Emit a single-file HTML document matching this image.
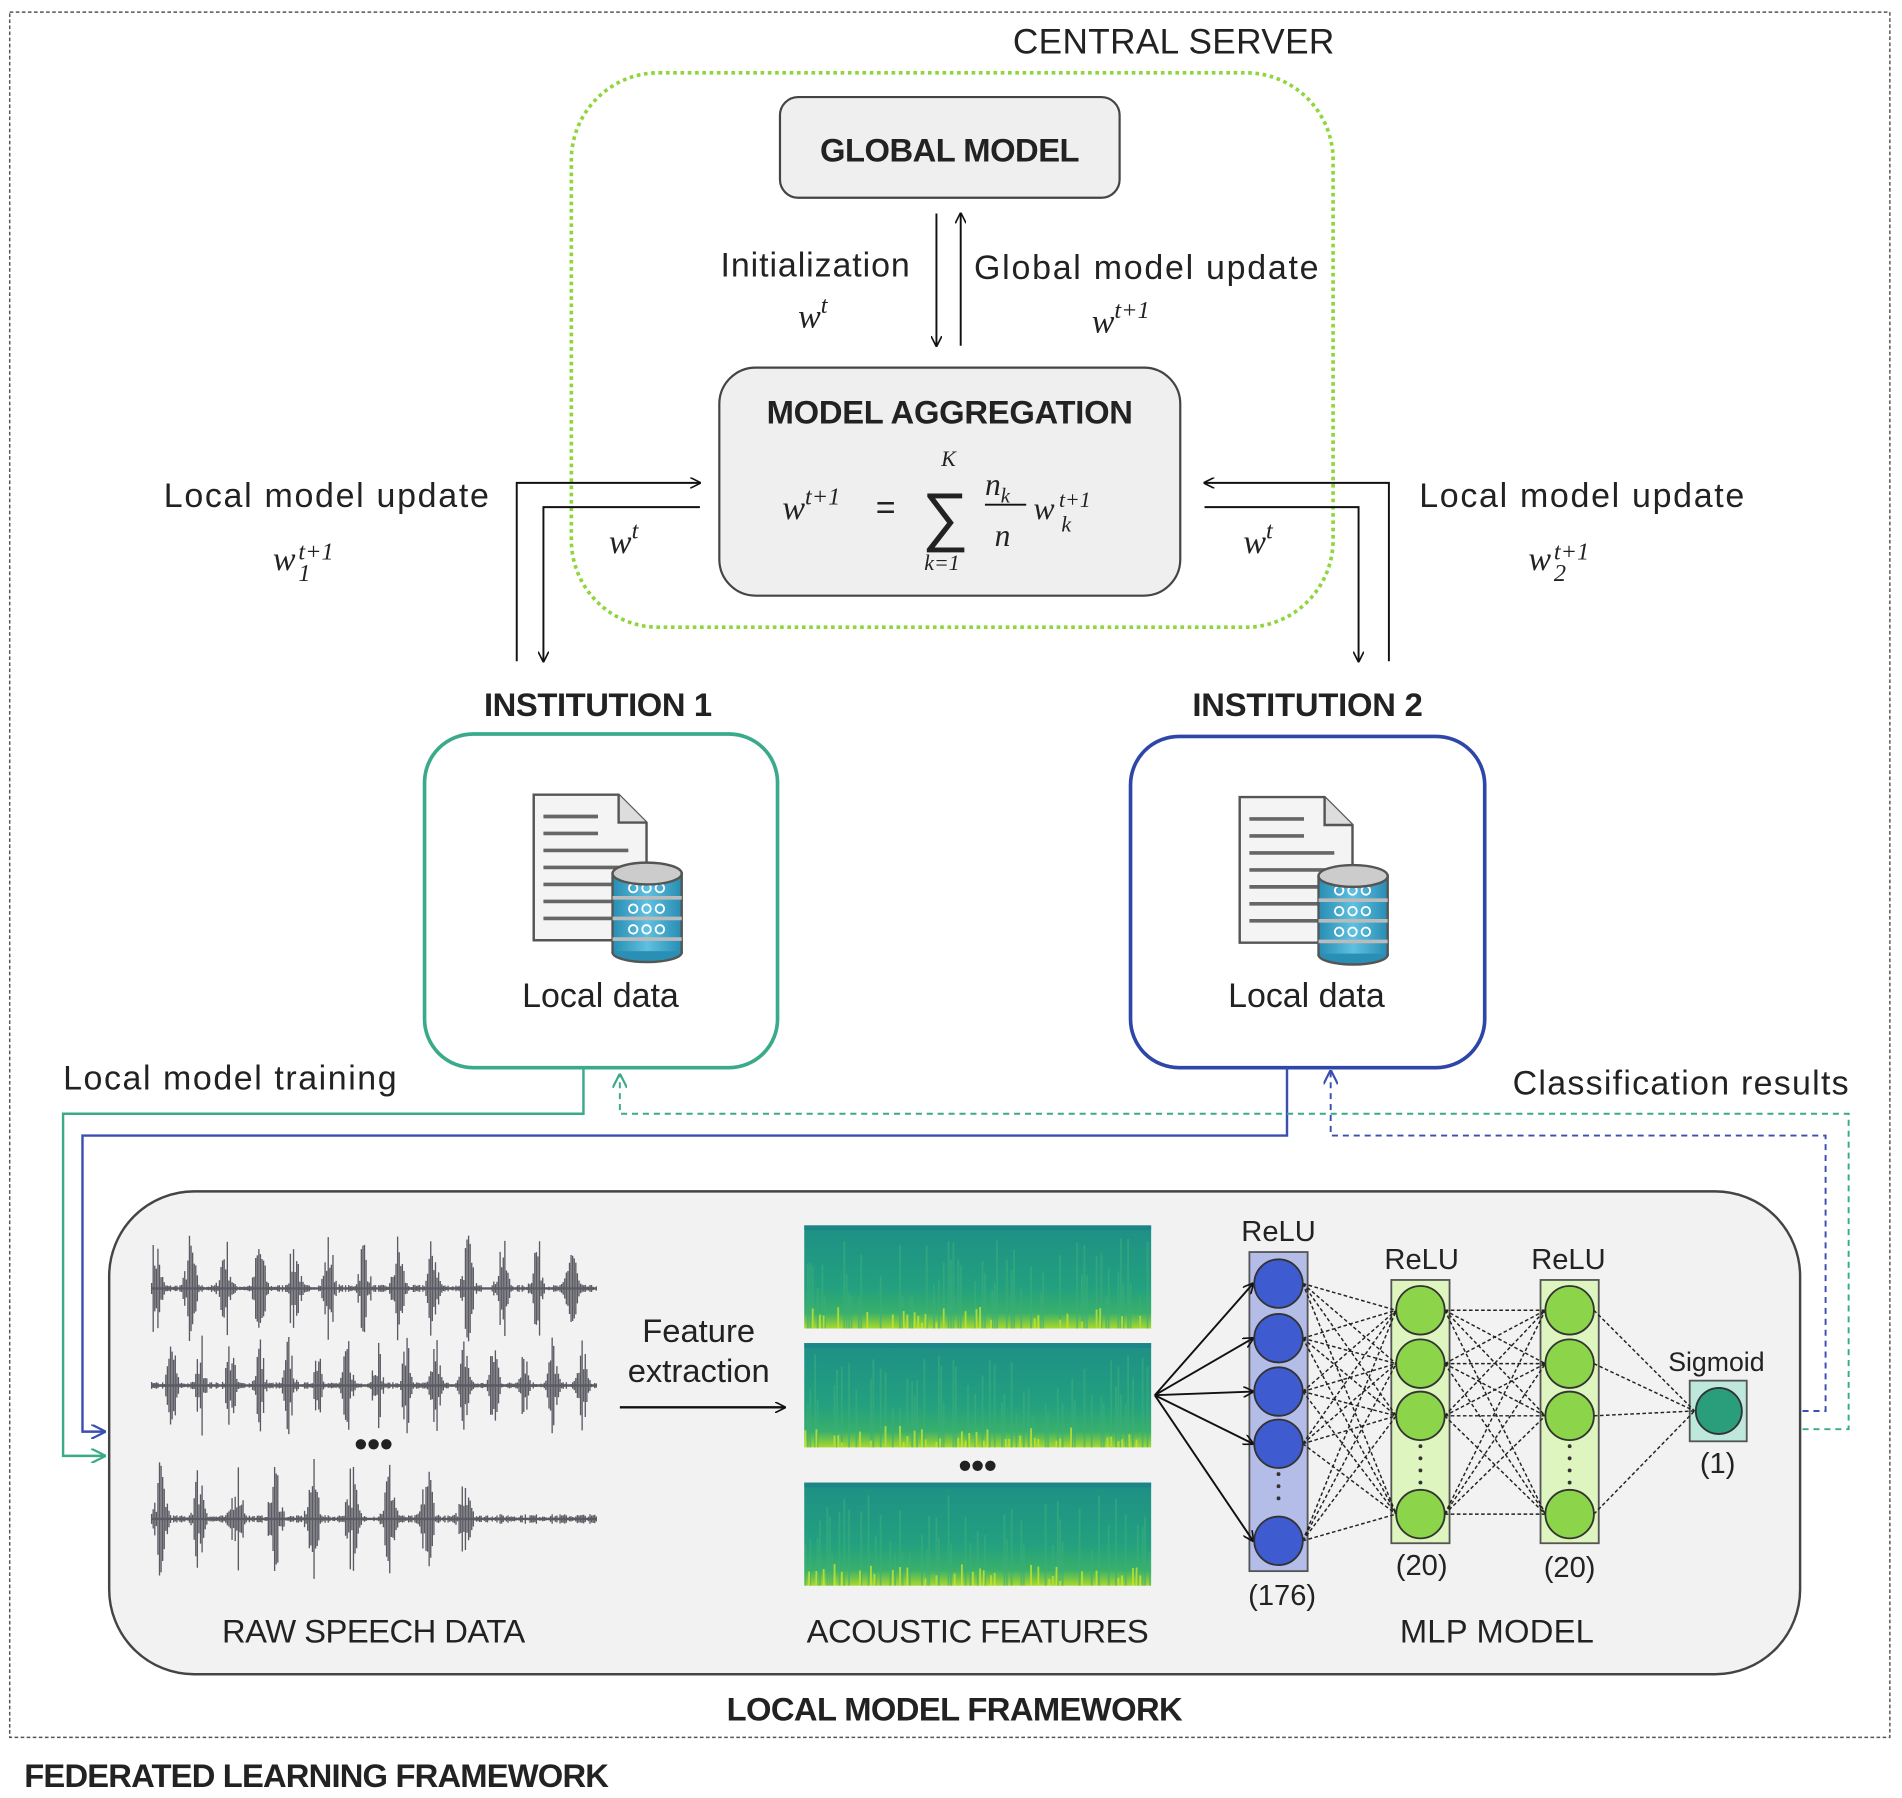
<!DOCTYPE html>
<html><head><meta charset="utf-8">
<style>
html,body{margin:0;padding:0;background:#fff;}
svg{display:block;}
text{font-family:"Liberation Sans",sans-serif;fill:#222;}
.b{font-weight:bold;}
.m{font-family:"Liberation Serif",serif;font-style:italic;}
</style></head>
<body>
<svg id="s" width="1902" height="1798" viewBox="0 0 1568 1482" preserveAspectRatio="none" xmlns="http://www.w3.org/2000/svg">
<defs>
<marker id="ah" viewBox="0 0 10 10" refX="9" refY="5" markerWidth="9" markerHeight="9" orient="auto" markerUnits="userSpaceOnUse"><path d="M0,0 L10,5 L0,10" fill="none" stroke="#111" stroke-width="1.5"/></marker>
<marker id="ahg" viewBox="0 0 10 10" refX="9" refY="5" markerWidth="12" markerHeight="12" orient="auto" markerUnits="userSpaceOnUse"><path d="M0,0 L10,5 L0,10" fill="none" stroke="#3aaa8a" stroke-width="1.5"/></marker>
<marker id="ahb" viewBox="0 0 10 10" refX="9" refY="5" markerWidth="12" markerHeight="12" orient="auto" markerUnits="userSpaceOnUse"><path d="M0,0 L10,5 L0,10" fill="none" stroke="#3a4fb0" stroke-width="1.5"/></marker>
<linearGradient id="sp" x1="0" y1="0" x2="0" y2="1">
<stop offset="0" stop-color="#1e8f86"/><stop offset="0.6" stop-color="#23a07f"/><stop offset="0.85" stop-color="#39b06a"/><stop offset="1" stop-color="#a8d82c"/></linearGradient>
<linearGradient id="cyl" x1="0" y1="0" x2="1" y2="0"><stop offset="0" stop-color="#2a8fb5"/><stop offset="0.5" stop-color="#5fc0e0"/><stop offset="1" stop-color="#2a8fb5"/></linearGradient>
</defs>

<rect x="8" y="10" width="1550" height="1422" fill="none" stroke="#555" stroke-width="1.2" stroke-dasharray="3,2"/>
<text x="835" y="44" font-size="29" textLength="265">CENTRAL SERVER</text>
<rect x="471" y="60" width="628" height="457" rx="72" fill="none" stroke="#8ed63c" stroke-width="3" stroke-dasharray="3,3"/>

<rect x="643" y="80" width="280" height="83" rx="15" fill="#efefef" stroke="#444" stroke-width="1.8"/>
<text x="783" y="133" font-size="27" class="b" text-anchor="middle" textLength="214">GLOBAL MODEL</text>

<line x1="772" y1="176" x2="772" y2="285" stroke="#111" stroke-width="1.6" marker-end="url(#ah)"/>
<line x1="792" y1="285" x2="792" y2="176" stroke="#111" stroke-width="1.6" marker-end="url(#ah)"/>
<text x="594" y="228" font-size="28" textLength="156">Initialization</text>
<text x="658" y="270" font-size="28" class="m">w<tspan dy="-12" font-size="20">t</tspan></text>
<text x="803" y="230" font-size="28" textLength="284">Global model update</text>
<text x="900" y="274" font-size="28" class="m">w<tspan dy="-12" font-size="20">t+1</tspan></text>

<rect x="593" y="303" width="380" height="188" rx="30" fill="#efefef" stroke="#444" stroke-width="1.8"/>
<text x="783" y="349" font-size="27" class="b" text-anchor="middle" textLength="302">MODEL AGGREGATION</text>
<text x="645" y="428" font-size="28" class="m">w<tspan dy="-12" font-size="20">t+1</tspan></text>
<text x="722" y="428" font-size="28" font-family="Liberation Serif">=</text>
<text x="760" y="444" font-size="54" font-family="DejaVu Serif,serif">∑</text>
<text x="776" y="384" font-size="18" class="m">K</text>
<text x="762" y="470" font-size="18" class="m">k=1</text>
<text x="812" y="408" font-size="26" class="m">n<tspan dy="6" font-size="17">k</tspan></text>
<line x1="812" y1="416" x2="846" y2="416" stroke="#111" stroke-width="1.5"/>
<text x="820" y="450" font-size="26" class="m">n</text>
<text x="852" y="428" font-size="26" class="m">w</text>
<text x="873" y="418" font-size="18" class="m">t+1</text>
<text x="875" y="438" font-size="18" class="m">k</text>

<polyline points="426,545 426,398 577,398" fill="none" stroke="#111" stroke-width="1.6" marker-end="url(#ah)"/>
<polyline points="577,418 448,418 448,545" fill="none" stroke="#111" stroke-width="1.6" marker-end="url(#ah)"/>
<polyline points="1145,545 1145,398 993,398" fill="none" stroke="#111" stroke-width="1.6" marker-end="url(#ah)"/>
<polyline points="993,418 1120,418 1120,545" fill="none" stroke="#111" stroke-width="1.6" marker-end="url(#ah)"/>
<text x="135" y="418" font-size="28" textLength="268">Local model update</text>
<text x="1170" y="418" font-size="28" textLength="268">Local model update</text>
<text x="225" y="470" font-size="28" class="m">w</text><text x="246" y="461" font-size="20" class="m">t+1</text><text x="246" y="479" font-size="20" class="m">1</text>
<text x="1260" y="470" font-size="28" class="m">w</text><text x="1281" y="461" font-size="20" class="m">t+1</text><text x="1281" y="479" font-size="20" class="m">2</text>
<text x="502" y="456" font-size="28" class="m">w<tspan dy="-12" font-size="20">t</tspan></text>
<text x="1025" y="456" font-size="28" class="m">w<tspan dy="-12" font-size="20">t</tspan></text>

<text x="493" y="590" font-size="27" class="b" text-anchor="middle" textLength="188">INSTITUTION 1</text>
<text x="1078" y="590" font-size="27" class="b" text-anchor="middle" textLength="190">INSTITUTION 2</text>

<rect x="350" y="605" width="291" height="275" rx="40" fill="#fff" stroke="#3aaa8a" stroke-width="3"/>
<rect x="932" y="607" width="292" height="273" rx="40" fill="#fff" stroke="#2e46a8" stroke-width="3"/>
<g id="icon1"></g><g id="icon2"></g>
<text x="495" y="830" font-size="28" text-anchor="middle">Local data</text>
<text x="1077" y="830" font-size="28" text-anchor="middle">Local data</text>

<text x="52" y="898" font-size="28" textLength="275">Local model training</text>
<text x="1247" y="902" font-size="28" textLength="277">Classification results</text>

<polyline points="481,880 481,918 52,918 52,1200 86,1200" fill="none" stroke="#3aaa8a" stroke-width="2" marker-end="url(#ahg)"/>
<polyline points="1061,880 1061,936 68,936 68,1180 86,1180" fill="none" stroke="#3a4fb0" stroke-width="2" marker-end="url(#ahb)"/>
<polyline points="1486,1178 1524,1178 1524,918 511,918 511,886" fill="none" stroke="#3aaa8a" stroke-width="1.6" stroke-dasharray="5,4" marker-end="url(#ahg)"/>
<polyline points="1486,1163 1505,1163 1505,936 1097,936 1097,883" fill="none" stroke="#3a4fb0" stroke-width="1.6" stroke-dasharray="5,4" marker-end="url(#ahb)"/>

<rect x="90" y="982" width="1394" height="398" rx="70" fill="#f2f2f2" stroke="#444" stroke-width="2"/>
<g id="waves"></g>
<text x="308" y="1200" font-size="30" class="b" text-anchor="middle" fill="#111">•••</text>
<text x="576" y="1106" font-size="27" text-anchor="middle">Feature</text>
<text x="576" y="1139" font-size="27" text-anchor="middle">extraction</text>
<line x1="511" y1="1160" x2="647" y2="1160" stroke="#111" stroke-width="2" marker-end="url(#ah)"/>
<g id="specs"></g>
<text x="806" y="1218" font-size="30" class="b" text-anchor="middle" fill="#111">•••</text>
<g id="nn"></g>

<text x="308" y="1354" font-size="27" text-anchor="middle" textLength="250">RAW SPEECH DATA</text>
<text x="806" y="1354" font-size="27" text-anchor="middle" textLength="282">ACOUSTIC FEATURES</text>
<text x="1234" y="1354" font-size="27" text-anchor="middle" textLength="160">MLP MODEL</text>
<text x="787" y="1418" font-size="27" class="b" text-anchor="middle" textLength="376">LOCAL MODEL FRAMEWORK</text>
<text x="20" y="1473" font-size="27" class="b" textLength="482">FEDERATED LEARNING FRAMEWORK</text>
</svg>
<script>
var NS="http://www.w3.org/2000/svg";
function el(p,t,a){var e=document.createElementNS(NS,t);for(var k in a)e.setAttribute(k,a[k]);p.appendChild(e);return e;}
var seed=7;function R(){seed=(seed*16807)%2147483647;return seed/2147483647;}
function icon(g,x,y){
 el(g,"path",{d:"M"+x+","+y+" h70 l23,23 v97 h-93 z",fill:"#f4f4f4",stroke:"#555","stroke-width":2});
 el(g,"path",{d:"M"+(x+70)+","+y+" v23 h23",fill:"#ddd",stroke:"#555","stroke-width":2});
 var ls=[45,45,70,70,60,60,60];
 for(var i=0;i<7;i++)el(g,"line",{x1:x+8,y1:y+18+i*14,x2:x+8+ls[i],y2:y+18+i*14,stroke:"#666","stroke-width":3});
 var cx=x+65,cy=y+55;
 el(g,"rect",{x:cx,y:cy+10,width:57,height:65,fill:"url(#cyl)",stroke:"#555","stroke-width":2});
 el(g,"ellipse",{cx:cx+28.5,cy:cy+75,rx:28.5,ry:8,fill:"#2a8fb5",stroke:"#555","stroke-width":2});
 el(g,"rect",{x:cx+1,y:cy+10,width:55,height:64,fill:"url(#cyl)"});
 for(var j=0;j<3;j++){el(g,"line",{x1:cx,y1:cy+30+j*17,x2:cx+57,y2:cy+30+j*17,stroke:"#bbb","stroke-width":3});
  for(var k=0;k<3;k++)el(g,"circle",{cx:cx+17+k*11,cy:cy+22+j*17,r:3.5,fill:"none",stroke:"#fff","stroke-width":1.5});}
 el(g,"ellipse",{cx:cx+28.5,cy:cy+10,rx:28.5,ry:9,fill:"#ccc",stroke:"#555","stroke-width":2});
}
icon(document.getElementById("icon1"),440,655);
icon(document.getElementById("icon2"),1022,657);
var W=document.getElementById("waves");
[[1062,40,0.11],[1142,38,0.13],[1252,42,0.1]].forEach(function(r,ri){
 var d="";for(var x=125;x<=492;x+=1.3){var env=0.06+Math.pow(Math.abs(Math.sin(x*r[2]+ri*2)),8)*0.94;if(ri==2&&x>400)env=0.08;var a=r[1]*env*(0.2+R()*1.0);d+="M"+x.toFixed(1)+","+(r[0]-a).toFixed(1)+"v"+(2*a).toFixed(1);}
 el(W,"path",{d:d,stroke:"#5a5a62","stroke-width":1.1,fill:"none"});
 el(W,"line",{x1:125,y1:r[0],x2:492,y2:r[0],stroke:"#5a5a62","stroke-width":2});
});
var S=document.getElementById("specs");
[[1010,85],[1107,86],[1222,85]].forEach(function(r){
 el(S,"rect",{x:663,y:r[0],width:286,height:r[1],fill:"url(#sp)"});
 var d="";for(var x=664;x<949;x+=2){if(R()<0.4){var h=r[1]*(0.3+R()*0.6);d+="M"+x+","+(r[0]+r[1]-h)+"v"+h;}}
 el(S,"path",{d:d,stroke:"#3cae7a","stroke-width":1.5,opacity:0.6});
 var d2="";for(var x=664;x<949;x+=3){if(R()<0.35){var h=4+R()*14;d2+="M"+x+","+(r[0]+r[1]-h)+"v"+h;}}
 el(S,"path",{d:d2,stroke:"#c8e62a","stroke-width":1.5,opacity:0.8});
 el(S,"rect",{x:663,y:r[0],width:286,height:4,fill:"#1b7f8a",opacity:0.6});
});
var N=document.getElementById("nn");
var L1=[1058,1103,1147,1190,1270],L2=[1080,1124,1167,1248],L3=[1080,1124,1167,1248];
el(N,"rect",{x:1030,y:1032,width:48,height:263,fill:"#b3bde8",stroke:"#555","stroke-width":1.5});
el(N,"rect",{x:1147,y:1055,width:48,height:217,fill:"#dff5c0",stroke:"#555","stroke-width":1.5});
el(N,"rect",{x:1270,y:1055,width:48,height:217,fill:"#dff5c0",stroke:"#555","stroke-width":1.5});
el(N,"rect",{x:1393,y:1138,width:47,height:50,fill:"#bfe8dc",stroke:"#555","stroke-width":1.5});
L1.forEach(function(y){el(N,"line",{x1:952,y1:1150,x2:1033,y2:y,stroke:"#111","stroke-width":1.6,"marker-end":"url(#ah)"});});
L1.forEach(function(a){L2.forEach(function(b){el(N,"line",{x1:1074,y1:a,x2:1151,y2:b,stroke:"#222","stroke-width":1.2,"stroke-dasharray":"3,2"});});});
L2.forEach(function(a){L3.forEach(function(b){el(N,"line",{x1:1191,y1:a,x2:1274,y2:b,stroke:"#222","stroke-width":1.2,"stroke-dasharray":"3,2"});});});
L3.forEach(function(a){el(N,"line",{x1:1314,y1:a,x2:1397,y2:1163,stroke:"#222","stroke-width":1.2,"stroke-dasharray":"3,2"});});
L1.forEach(function(y){el(N,"ellipse",{cx:1054,cy:y,rx:20,ry:20,fill:"#3f5bd0",stroke:"#333","stroke-width":1.5});});
L2.forEach(function(y){el(N,"ellipse",{cx:1171,cy:y,rx:20,ry:20,fill:"#8cd44a",stroke:"#333","stroke-width":1.5});});
L3.forEach(function(y){el(N,"ellipse",{cx:1294,cy:y,rx:20,ry:20,fill:"#8cd44a",stroke:"#333","stroke-width":1.5});});
el(N,"ellipse",{cx:1417,cy:1163,rx:19,ry:19,fill:"#2a9d7a",stroke:"#333","stroke-width":1.5});
[[1054,1215,1240],[1171,1192,1222],[1294,1192,1222]].forEach(function(c){for(var y=c[1];y<=c[2];y+=10)el(N,"circle",{cx:c[0],cy:y,r:1.6,fill:"#333"});});
function T(x,y,s,t){var e=el(N,"text",{x:x,y:y,"font-size":s,"text-anchor":"middle"});e.textContent=t;}
T(1054,1023,24,"ReLU");T(1172,1046,24,"ReLU");T(1293,1046,24,"ReLU");T(1415,1130,22,"Sigmoid");
T(1057,1323,24,"(176)");T(1172,1298,24,"(20)");T(1294,1300,24,"(20)");T(1416,1214,24,"(1)");
</script>
</body></html>
